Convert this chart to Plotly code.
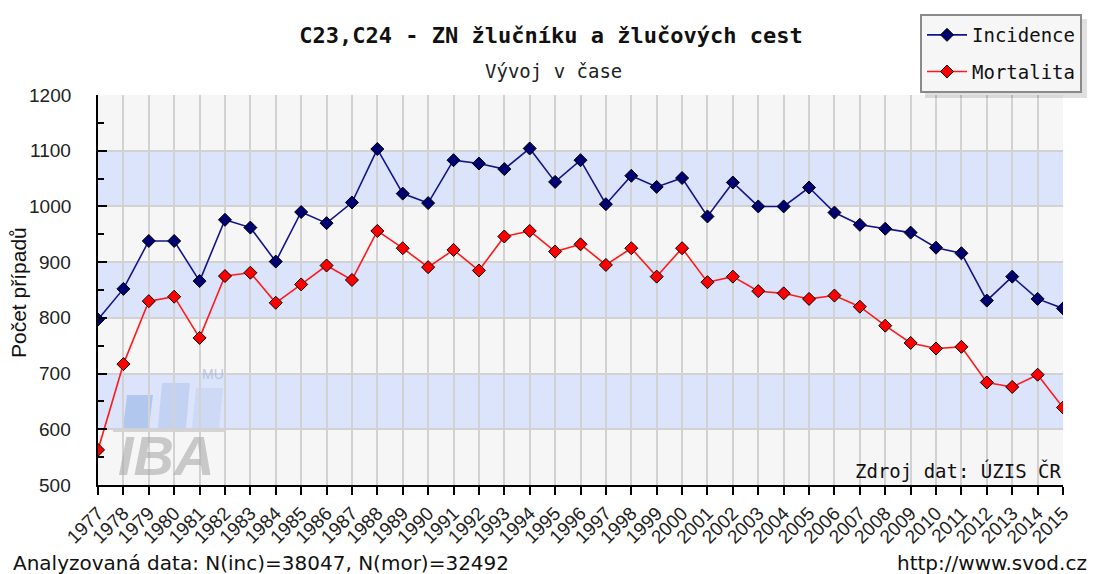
import plotly.graph_objects as go

years = list(range(1977, 2016))
incidence = [797, 852, 938, 938, 866, 976, 962, 901, 990, 970, 1007, 1103, 1023, 1006,
             1083, 1077, 1067, 1104, 1044, 1083, 1004, 1055, 1035, 1051, 982, 1043, 1000,
             1000, 1034, 989, 967, 960, 953, 926, 916, 831, 874, 834, 817]
mortalita = [563, 717, 830, 838, 764, 875, 881, 827, 860, 894, 868, 956, 925, 891,
             922, 885, 946, 956, 919, 932, 895, 925, 874, 925, 864, 874, 848,
             844, 834, 840, 820, 786, 755, 745, 748, 684, 676, 698, 639]
year_labels = [str(y) for y in years]
y_ticks = [500, 600, 700, 800, 900, 1000, 1100, 1200]
y_tick_labels = [str(v) for v in y_ticks]

# page body has an 8px margin; work in reference-pixel coordinates and shift
OFF = 8
W, H = 1095 - OFF, 574 - OFF
L, R, T, B = 98 - OFF, 1063 - OFF, 95 - OFF, 485 - OFF

def px(x):
    return (x - OFF - L) / (R - L)

def py(y):
    return (B - (y - OFF)) / (B - T)

fig = go.Figure()
fig.add_trace(go.Scatter(
    x=years, y=incidence, name="Incidence", mode="lines+markers",
    line=dict(color="#14148a", width=1.6),
    marker=dict(symbol="diamond", size=10, color="#000070", line=dict(color="black", width=1)),
    legendgroup="a"))
fig.add_trace(go.Scatter(
    x=years, y=mortalita, name="Mortalita", mode="lines+markers",
    line=dict(color="#ff1a1a", width=1.6),
    marker=dict(symbol="diamond", size=10, color="#ff0000", line=dict(color="black", width=1)),
    legendgroup="b"))

shapes = []
for lo in range(500, 1200, 100):
    col = "#dce4fb" if (lo // 100) % 2 == 0 else "#f6f6f6"
    shapes.append(dict(type="rect", xref="paper", yref="y", x0=0, x1=1, y0=lo, y1=lo + 100,
                       fillcolor=col, line=dict(width=0), layer="below"))
# watermark bars (slanted)
for (x0, x1, y0, y1, c) in [(123, 153, 395, 428, "rgba(150,180,230,0.6)"),
                            (158, 190, 383, 428, "rgba(170,190,235,0.5)"),
                            (192, 223, 388, 428, "rgba(190,205,240,0.5)")]:
    path = "M {a},{b} L {c},{b} L {d},{e} L {f},{e} Z".format(
        a=px(x0), c=px(x1 - 4), b=py(y1), d=px(x1), e=py(y0), f=px(x0 + 4))
    shapes.append(dict(type="path", xref="paper", yref="paper", path=path,
                       fillcolor=c, line=dict(width=0), layer="below"))
shapes.append(dict(type="rect", xref="paper", yref="paper", x0=px(113), x1=px(225),
                   y0=py(432), y1=py(428), fillcolor="rgba(190,190,190,0.6)",
                   line=dict(width=0), layer="below"))
# legend shadow
shapes.append(dict(type="rect", xref="paper", yref="paper", x0=px(925), x1=px(1095),
                   y0=py(98), y1=py(19), fillcolor="rgba(0,0,0,0.12)", line=dict(width=0)))

annotations = [
    dict(text="Vývoj v čase", x=px(553), xref="paper", y=py(71), yref="paper",
         xanchor="center", yanchor="middle", showarrow=False,
         font=dict(family="DejaVu Sans Mono", size=19, color="#222")),
    dict(text="Zdroj dat: ÚZIS ČR", x=px(1063), xref="paper", y=py(470), yref="paper",
         xanchor="right", yanchor="middle", showarrow=False,
         font=dict(family="DejaVu Sans Mono", size=19, color="#111")),
    dict(text="Analyzovaná data: N(inc)=38047, N(mor)=32492", x=px(11), xref="paper",
         y=py(563), yref="paper", xanchor="left", yanchor="middle", showarrow=False,
         font=dict(family="DejaVu Sans", size=20, color="#111")),
    dict(text="http://www.svod.cz", x=px(1089), xref="paper", y=py(563), yref="paper",
         xanchor="right", yanchor="middle", showarrow=False,
         font=dict(family="DejaVu Sans", size=20, color="#111")),
    dict(text="Počet případů", x=px(18), xref="paper", y=py(293), yref="paper",
         xanchor="center", yanchor="middle", showarrow=False, textangle=-90,
         font=dict(family="Liberation Sans", size=21, color="#111")),
    dict(text="<b><i>IBA</i></b>", x=px(166), xref="paper", y=py(455), yref="paper",
         xanchor="center", yanchor="middle", showarrow=False,
         font=dict(family="Liberation Sans", size=56, color="rgba(170,170,170,0.6)")),
    dict(text="MU", x=px(213), xref="paper", y=py(374), yref="paper",
         xanchor="center", yanchor="middle", showarrow=False,
         font=dict(family="Liberation Sans", size=14, color="rgba(150,170,215,0.6)")),
]
# y tick labels placed further left of the axis, as in the reference
for v, t in zip(y_ticks, y_tick_labels):
    annotations.append(dict(text=t, x=px(73), xref="paper", y=v, yref="y",
                            xanchor="right", yanchor="middle", showarrow=False,
                            font=dict(family="Liberation Sans", size=19, color="#222")))

fig.update_layout(
    width=W, height=H,
    margin=dict(l=L, r=W - R, t=T, b=H - B, autoexpand=False),
    paper_bgcolor="white", plot_bgcolor="#f6f6f6",
    title=dict(text="<b>C23,C24 - ZN žlučníku a žlučových cest</b>", x=(551 - OFF) / W,
               xanchor="center", y=1 - (35 - OFF) / H, yanchor="middle", yref="container",
               font=dict(family="DejaVu Sans Mono", size=22, color="#111")),
    showlegend=True,
    legend=dict(x=(920 - OFF) / W, y=1 - (14 - OFF) / H, xanchor="left", yanchor="top",
                xref="container", yref="container",
                bgcolor="#f6f6f6", bordercolor="#8a8a8a", borderwidth=2,
                font=dict(family="DejaVu Sans Mono", size=19, color="#111"),
                tracegroupgap=9, itemwidth=40),
    shapes=shapes,
    annotations=annotations,
    xaxis=dict(range=[1977, 2015], tickmode="array", tickvals=years, ticktext=year_labels,
               tickangle=-45, ticks="outside", ticklen=8, tickcolor="black", tickwidth=1.5,
               showline=True, linecolor="black", linewidth=1.5,
               showgrid=True, gridcolor="#d2d2d2", gridwidth=2, zeroline=False,
               tickfont=dict(family="Liberation Sans", size=19, color="#222")),
    yaxis=dict(range=[500, 1200], tickmode="array", tickvals=y_ticks,
               showticklabels=False,
               ticks="inside", ticklen=9, tickcolor="black", tickwidth=1.5,
               showline=True, linecolor="black", linewidth=1.5,
               showgrid=True, gridcolor="#d2d2d2", gridwidth=2, zeroline=False,
               minor=dict(dtick=50, tick0=500, ticks="inside", ticklen=6, tickcolor="black",
                          tickwidth=1.5, showgrid=False)),
)

fig.write_html("out.html")
